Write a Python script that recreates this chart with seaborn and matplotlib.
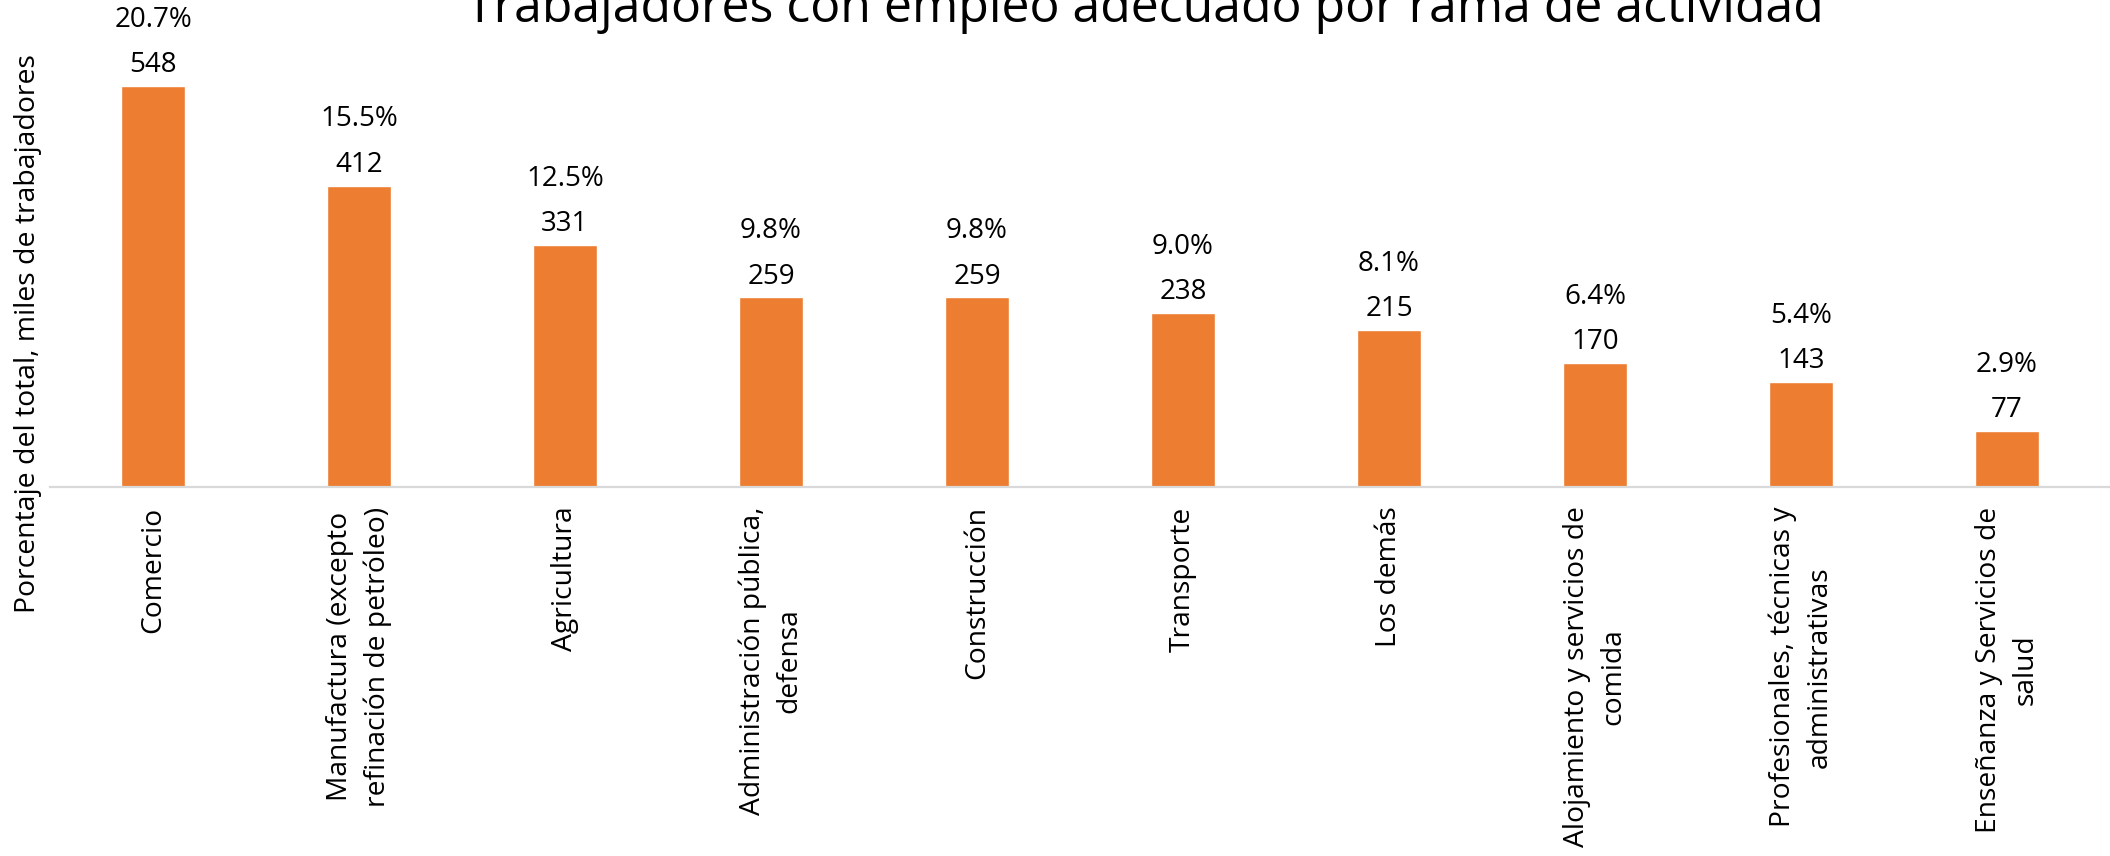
import matplotlib
matplotlib.use("Agg")
import matplotlib.pyplot as plt
import seaborn as sns
import pandas as pd

categories = [
    "Comercio",
    "Manufactura (excepto\nrefinación de petróleo)",
    "Agricultura",
    "Administración pública,\ndefensa",
    "Construcción",
    "Transporte",
    "Los demás",
    "Alojamiento y servicios de\ncomida",
    "Profesionales, técnicas y\nadministrativas",
    "Enseñanza y Servicios de\nsalud",
]
values = [548, 412, 331, 259, 259, 238, 215, 170, 143, 77]
percents = ["20.7%", "15.5%", "12.5%", "9.8%", "9.8%", "9.0%", "8.1%", "6.4%", "5.4%", "2.9%"]

title = "Trabajadores con empleo adecuado por rama de actividad"
ylabel = "Porcentaje del total, miles de trabajadores"

sns.set_theme(style="white")
plt.rcParams["font.family"] = ["Open Sans", "DejaVu Sans"]

W, H = 2110, 856
fig = plt.figure(figsize=(W / 100, H / 100), dpi=100)
ax = fig.add_axes([50 / W, 1 - 487 / H, 2060 / W, 487 / H])

df = pd.DataFrame({"cat": categories, "val": values})
sns.barplot(data=df, x="cat", y="val", color="#ED7D31", saturation=1,
            width=0.314, ax=ax)

ax.set_xlim(-0.5, len(categories) - 0.5)
ax.set_ylim(0, 665.5)
for s in ["top", "right", "left"]:
    ax.spines[s].set_visible(False)
ax.spines["bottom"].set_color("#D9D9D9")
ax.spines["bottom"].set_linewidth(1.6)
ax.set_yticks([])
ax.set_xlabel("")
ax.set_ylabel("")
ax.tick_params(axis="x", length=0, pad=14)
for lab in ax.get_xticklabels():
    lab.set_rotation(90)
    lab.set_fontsize(20.3)
    lab.set_ha("center")
    lab.set_va("top")
    lab.set_linespacing(1.4)
    lab.set_color("black")

for i, (v, p) in enumerate(zip(values, percents)):
    ax.annotate(str(v), (i, v), xytext=(0, 10), textcoords="offset points",
                ha="center", va="baseline", fontsize=20, color="black",
                annotation_clip=False)
    ax.annotate(p, (i, v), xytext=(0, 42.5), textcoords="offset points",
                ha="center", va="baseline", fontsize=20, color="black",
                annotation_clip=False)

fig.text(1145 / W, 1 - 22 / H, title, ha="center", va="baseline",
         fontsize=36, color="black")
fig.text(28 / W, 1 - 334 / H, ylabel, rotation=90, ha="center", va="center",
         fontsize=20.4, color="black")

fig.savefig("out.png", dpi=100)
